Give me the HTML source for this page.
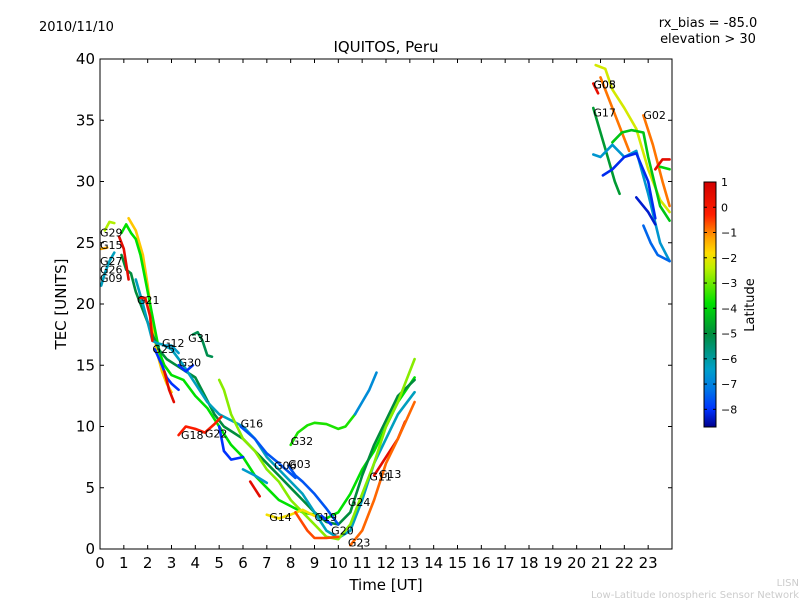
<!DOCTYPE html>
<html><head><meta charset="utf-8"><style>
body{margin:0;background:#fff;}
svg{display:block;font-family:"DejaVu Sans","Liberation Sans",sans-serif;}
</style></head><body>
<svg id="chart" width="800" height="600" viewBox="0 0 800 600">
<rect width="800" height="600" fill="#fff"/>
<text x="39" y="31" font-size="13">2010/11/10</text>
<text x="708" y="27" font-size="13" text-anchor="middle">rx_bias = -85.0</text>
<text x="708" y="43" font-size="13" text-anchor="middle">elevation &gt; 30</text>
<text x="386" y="52" font-size="15" text-anchor="middle">IQUITOS, Peru</text>
<g id="plot"></g>
<g id="axes"></g>
<text x="386" y="590" font-size="15" text-anchor="middle">Time [UT]</text>
<text transform="translate(66,304) rotate(-90)" font-size="15" text-anchor="middle">TEC [UNITS]</text>
<g id="cbar"></g>
<text transform="translate(754,305) rotate(-90)" font-size="13" text-anchor="middle">Latitude</text>
<text x="799" y="586" font-size="10" fill="#ccc" text-anchor="end">LISN</text>
<text x="799" y="598" font-size="10" fill="#ccc" text-anchor="end">Low-Latitude Ionospheric Sensor Network</text>
</svg>
<script>
const xTicks=[0,1,2,3,4,5,6,7,8,9,10,11,12,13,14,15,16,17,18,19,20,21,22,23];
const yTicks=[0,5,10,15,20,25,30,35,40];
const cbTicks=[1,0,-1,-2,-3,-4,-5,-6,-7,-8];
const latMin=-8.7, latMax=1;
const seriesNames=['s1','s2','s3','s4','s5','s6','s7','s8','s9','s10','s11','s12','s13','s14','s15','s16','s17','s18','s19','s20','s21','s22','s23','s24','s25','s26','s27','s28','s29','s30','s31','s32','s33','s34','s35','s36','s37','s38','s39','s40'];
const seriesLat=[-1.6,-3.8,-5,-6.3,-6.3,0.3,0.5,-8,0.5,-5.2,-8,-6.5,-2.8,-0.2,-7.6,-7.6,-8,-3.6,-6.8,0.5,-0.8,-1.9,-0.6,-8,-6.5,0.5,-2.2,0.4,-0.9,-4.8,-6.6,-4.2,-8.1,-8.3,-0.9,0.5,-4,-2.5,-7.4,-1.3];
const seriesPts=[
[[1.2,27.0],[1.5,26],[1.8,24],[2.0,21.5],[2.2,18.5],[2.4,16],[2.6,14.5],[2.8,13.5],[3.0,12.8]],
[[0.9,25.8],[1.1,26.5],[1.3,25.8],[1.5,25.3],[1.7,24],[1.9,22],[2.1,20],[2.3,18],[2.5,16],[2.7,15],[3.0,14.2],[3.5,13.8],[4.0,12.5],[4.5,11.5],[5.0,10],[5.5,8.5],[6,7.5],[6.5,6],[7,5],[7.5,4],[8,3.5],[8.5,3],[9,2.8],[9.5,2.5],[10,3],[10.5,4.5],[11,6.5],[11.5,8],[12,10],[12.5,12],[13.2,14]],
[[0.9,24],[1.1,22.8],[1.3,22.5],[1.5,21],[1.8,19.5],[2.0,18.5],[2.2,17.5],[2.5,16.2],[2.8,15.5],[3.2,15],[3.6,14.5],[4.0,14],[4.4,12.5],[4.8,11],[5.2,10],[5.6,9.5],[6,9],[6.5,8],[7,7],[7.5,6],[8,5],[8.5,4],[9,3],[9.5,2.2],[10,2],[10.5,3],[11,6],[11.5,8.5],[12,10.5],[12.5,12.5],[13.2,13.8]],
[[0.05,21.5],[0.2,22.5],[0.4,23.5],[0.6,24.2]],
[[1.5,22],[1.8,20],[2.0,18.5],[2.2,17],[2.4,16.8],[2.6,16.7],[3.0,16.3],[3.5,15],[4.0,13.5],[4.5,12],[5.0,11],[5.5,10.5],[6,10],[6.5,9],[7,7.5],[7.5,6.5],[8,5.5],[8.5,4.5],[9,3],[9.5,1.5],[10,0.9],[10.5,1.5],[11,4],[11.5,7],[12,9],[12.5,11],[13.2,12.8]],
[[1.7,20.5],[1.9,20.5],[2.1,19],[2.2,17]],
[[0.8,25.5],[1.0,24.5],[1.2,22]],
[[2.3,16.3],[2.6,15],[2.8,14],[3.0,13.5],[3.3,13]],
[[2.7,14.5],[2.9,13],[3.1,12]],
[[3.9,17.5],[4.1,17.7],[4.3,17],[4.5,15.8],[4.7,15.7]],
[[3.3,15],[3.6,14.5],[3.9,15]],
[[2.7,16.6],[3.0,16.6],[3.3,16]],
[[5.0,13.8],[5.2,13],[5.5,11],[6,9],[6.5,8],[7,6.5],[7.5,5.5],[8,4],[8.5,3],[9,2],[9.5,1],[10,0.8],[10.5,2],[11,4.5],[11.5,7],[12,10],[12.5,12],[13.2,15.5]],
[[3.3,9.3],[3.6,10],[4,9.8],[4.4,9.5],[4.8,10.2],[5.1,10.8]],
[[5.9,10],[6.5,9],[7,7.8],[7.5,7],[8.2,5.8]],
[[7.9,6.8],[8.2,6],[8.5,5.5],[9,4.5],[9.5,3.3],[10,2]],
[[9.3,2.7],[9.7,2]],
[[8.0,8.5],[8.3,9.5],[8.7,10.1],[9,10.3],[9.5,10.2],[10,9.8],[10.3,10],[10.7,11]],
[[10.7,11],[11,12],[11.3,13],[11.6,14.4]],
[[11.5,6],[12,7.5],[12.5,9],[12.8,10.4]],
[[10.5,0.3],[11,1.5],[11.5,4],[12,7],[12.5,9],[13.2,12]],
[[7,2.8],[7.5,2.5],[8,2.8],[8.5,3.2],[9,2.7]],
[[8.2,3],[8.7,1.5],[9,0.9],[9.5,0.9],[10,1.0]],
[[5.0,10],[5.2,8],[5.5,7.3],[6,7.5]],
[[6,6.5],[6.5,6],[7,5.4]],
[[6.3,5.5],[6.7,4.3]],
[[20.8,39.5],[21.2,39.2],[21.5,37.5],[22,36],[22.5,34.3],[23,31],[23.5,28.5],[23.9,27.5]],
[[20.7,38],[20.9,37.2]],
[[21.0,38.5],[21.5,36],[22,33.5],[22.2,32.5]],
[[20.7,36],[21,34],[21.3,32],[21.6,30],[21.8,29]],
[[20.7,32.2],[21,32],[21.5,33],[22,32],[22.5,32.5],[23,29],[23.5,25],[23.9,23.5]],
[[21.5,33.2],[21.9,34],[22.3,34.2],[22.8,34],[23,32],[23.5,28],[23.9,26.8]],
[[21.1,30.5],[21.5,31],[22,32],[22.5,32.3],[23,30],[23.3,27]],
[[22.5,28.7],[23,27.5],[23.3,26.5]],
[[22.8,35.4],[23.2,33],[23.6,30],[23.9,28]],
[[23.3,31],[23.6,31.8],[23.9,31.8]],
[[23.5,31.2],[23.9,31]],
[[0.2,26],[0.4,26.7],[0.6,26.6]],
[[22.8,26.4],[23.1,25],[23.4,24],[23.9,23.5]],
[[0.05,24.5],[0.3,24.6]]
];
const labelText=['G29','G15','G27','G26','G09','G21','G12','G25','G31','G30','G18','G22','G16','G32','G06','G03','G14','G19','G11','G13','G24','G20','G23','G05','G08','G17','G02'];
const labelT=[0,0,0,0,0,1.55,2.6,2.2,3.7,3.3,3.4,4.4,5.9,8.0,7.3,7.9,7.1,9.0,11.3,11.7,10.4,9.7,10.4,20.7,20.7,20.7,22.8];
const labelV=[25.5,24.5,23.2,22.5,21.8,20.0,16.5,16.0,16.9,14.9,9.0,9.1,9.9,8.5,6.5,6.6,2.3,2.3,5.6,5.8,3.5,1.2,0.2,37.6,37.6,35.3,35.1];

const X0=100,X1=672,Y0=549,Y1=59;
const px=t=>X0+t*(X1-X0)/24;
const py=v=>Y0-v*(Y0-Y1)/40;
const NS='http://www.w3.org/2000/svg';
function mk(tag,attrs,parent){const e=document.createElementNS(NS,tag);for(const k in attrs)e.setAttribute(k,attrs[k]);parent.appendChild(e);return e;}
// colormap stops [latitude, r,g,b] as seen in the reference colorbar
const cmap=[[-8.7,0,0,140],[-8.0,0,50,255],[-7.2,0,120,230],[-6.4,0,160,200],[-5.0,0,140,60],[-3.8,0,225,0],[-2.4,190,240,0],[-1.8,255,220,0],[-1.2,255,160,0],[-0.3,255,30,0],[1.0,210,0,0]];
function latColor(l){
 if(l<=cmap[0][0])return `rgb(${cmap[0][1]},${cmap[0][2]},${cmap[0][3]})`;
 for(let k=1;k<cmap.length;k++){if(l<=cmap[k][0]){const a=cmap[k-1],b=cmap[k],f=(l-a[0])/(b[0]-a[0]);
  return `rgb(${Math.round(a[1]+f*(b[1]-a[1]))},${Math.round(a[2]+f*(b[2]-a[2]))},${Math.round(a[3]+f*(b[3]-a[3]))})`;}}
 const z=cmap[cmap.length-1];return `rgb(${z[1]},${z[2]},${z[3]})`;}
const plot=document.getElementById('plot'),axes=document.getElementById('axes'),cbar=document.getElementById('cbar');
seriesPts.forEach((pts,i)=>{
 const p=mk('polyline',{points:pts.map(q=>px(q[0]).toFixed(1)+','+py(q[1]).toFixed(1)).join(' '),fill:'none',stroke:latColor(seriesLat[i]),'stroke-width':2.6,'stroke-linejoin':'round','stroke-linecap':'round'},plot);
 
 
});
labelText.forEach((s,i)=>{
 const t=mk('text',{x:px(labelT[i]),y:py(labelV[i]),'font-size':11,fill:'#000'},plot);
 t.textContent=s;
 
 
});
const fr=mk('rect',{x:X0,y:Y1,width:X1-X0,height:Y0-Y1,fill:'none',stroke:'#000','stroke-width':1},axes);


xTicks.forEach(t=>{
 const x=px(t);
 mk('line',{x1:x,x2:x,y1:Y0,y2:Y0-4,stroke:'#000'},axes);
 mk('line',{x1:x,x2:x,y1:Y1,y2:Y1+4,stroke:'#000'},axes);
 const tx=mk('text',{x:x,y:568,'font-size':15,'text-anchor':'middle'},axes);
 tx.textContent=t;
 
 
});
yTicks.forEach(v=>{
 const y=py(v);
 mk('line',{x1:X0,x2:X0+4,y1:y,y2:y,stroke:'#000'},axes);
 mk('line',{x1:X1,x2:X1-4,y1:y,y2:y,stroke:'#000'},axes);
 const tx=mk('text',{x:95,y:y+5,'font-size':15,'text-anchor':'end'},axes);
 tx.textContent=v;
 
 
});
const CX=704,CW=12,CT=182,CB=427;
const cy=l=>CB-(l-latMin)/(latMax-latMin)*(CB-CT);
const defs=mk('defs',{},cbar);
const gr=mk('linearGradient',{id:'cmapg',x1:0,y1:1,x2:0,y2:0},defs);
cmap.forEach(s=>mk('stop',{offset:((s[0]-latMin)/(latMax-latMin)).toFixed(3),'stop-color':`rgb(${s[1]},${s[2]},${s[3]})`},gr));
const cr=mk('rect',{x:CX,y:CT,width:CW,height:CB-CT,fill:'url(#cmapg)',stroke:'#000','stroke-width':1},cbar);


cbTicks.forEach(l=>{
 const y=cy(l);
 mk('line',{x1:CX,x2:CX+3,y1:y,y2:y,stroke:'#000'},cbar);
 mk('line',{x1:CX+CW,x2:CX+CW-3,y1:y,y2:y,stroke:'#000'},cbar);
 const tx=mk('text',{x:721,y:y+4,'font-size':11},cbar);
 tx.textContent=l<0?'\u2212'+(-l):l;
 
 
});
</script>
</body></html>
